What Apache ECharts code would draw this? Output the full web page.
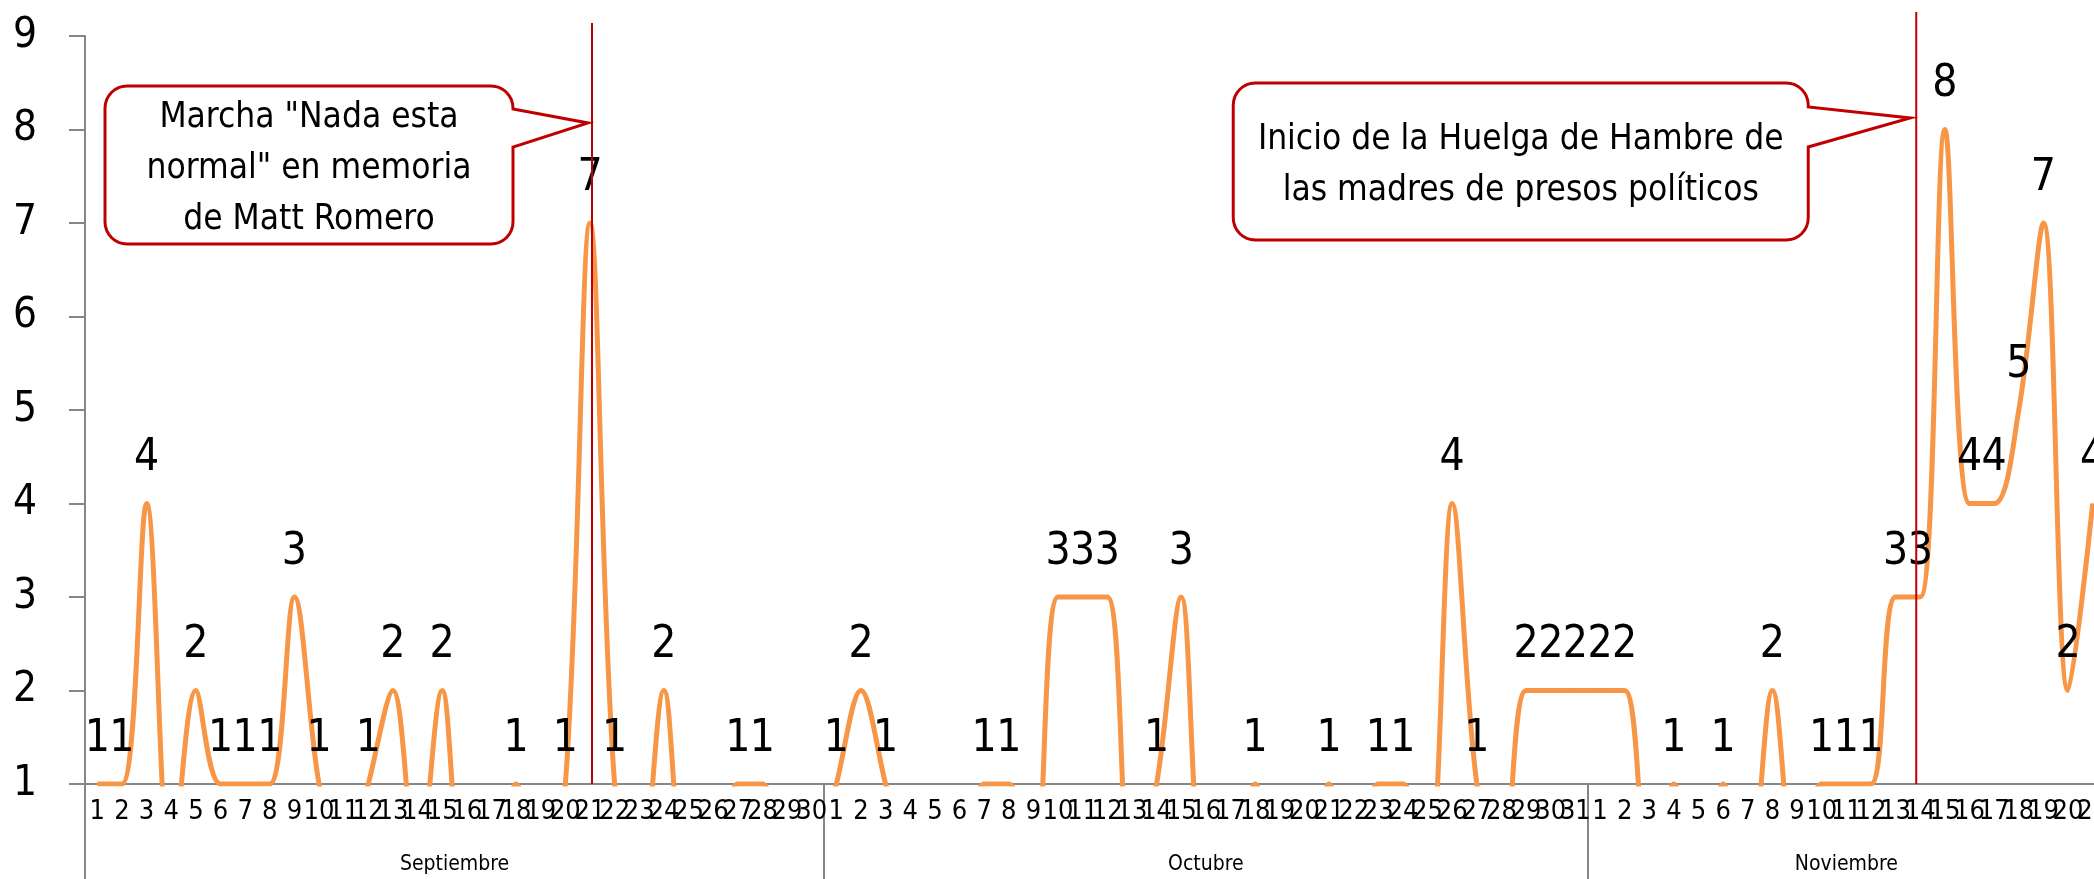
<!DOCTYPE html>
<html>
<head>
<meta charset="utf-8">
<script src="https://cdn.jsdelivr.net/npm/echarts@6/dist/echarts.min.js"></script>
<style>
html, body { margin: 0; padding: 0; background: #fff; }
#chart { width: 2094px; height: 879px; }
</style>
</head>
<body>
<div id="chart"></div>
<script>
// months shown on the lower axis and how many days of each are in the chart
let months = ['Septiembre', 'Octubre', 'Noviembre'];
let monthDays = [30, 31, 21];

// daily counts (0 = nothing that day, it falls under the axis minimum of 1)
let sepValues = [1, 1, 4, 0, 2, 1, 1, 1, 3, 1, 0, 1, 2, 0, 2, 0, 0, 1, 0, 1, 7, 1, 0, 2, 0, 0, 1, 1, 0, 0];
let octValues = [1, 2, 1, 0, 0, 0, 1, 1, 0, 3, 3, 3, 0, 1, 3, 0, 0, 1, 0, 0, 1, 0, 1, 1, 0, 4, 1, 0, 2, 2, 2];
let novValues = [2, 2, 0, 1, 0, 1, 0, 2, 0, 1, 1, 1, 3, 3, 8, 4, 4, 5, 7, 2, 4];

// callouts: which month / day the red line marks
let notes = [
  { month: 0, day: 21, text: 'Marcha "Nada esta\nnormal" en memoria\nde Matt Romero' },
  { month: 2, day: 14, text: 'Inicio de la Huelga de Hambre de\nlas madres de presos políticos' }
];
// callout box layout, offsets in px from the red line
let noteLayout = [
  { shift: 2, left: 487, right: 79, top: 86, bottom: 244, tip: 4, tipY: 123, baseTop: 109, baseBottom: 147, lineTop: 23 },
  { shift: -4, left: 683, right: 108, top: 83, bottom: 240, tip: 6, tipY: 118, baseTop: 107, baseBottom: 147, lineTop: 12 }
];

let days = [];
let monthStarts = [];
let monthCenters = [];
monthDays.forEach(n => {
  monthStarts.push(days.length);
  monthCenters.push(days.length + n / 2);
  for (let d = 1; d <= n; d++) days.push(String(d));
});
let values = sepValues.concat(octValues, novValues);

const font = '"DejaVu Sans Condensed", sans-serif';
const gray = '#868686';
const red = '#C00000';

let option = {
  animation: false,
  grid: { left: 85, right: -11, top: 36, bottom: 95, containLabel: false, outerBoundsMode: 'none' },
  xAxis: [
    {
      type: 'category',
      data: days,
      position: 'bottom',
      boundaryGap: true,
      axisLine: { lineStyle: { color: gray, width: 2 } },
      axisTick: { show: false },
      axisLabel: { interval: 0, fontSize: 27, margin: 14, color: '#000', fontFamily: font }
    },
    {
      type: 'value',
      min: 0,
      max: days.length,
      position: 'bottom',
      axisLine: { show: false },
      splitLine: { show: false },
      axisTick: { show: true, customValues: monthStarts, length: 95, lineStyle: { color: gray, width: 2 } },
      axisLabel: {
        customValues: monthCenters,
        formatter: v => months[monthCenters.indexOf(v)] || '',
        fontSize: 21, margin: 70, color: '#000', fontFamily: font
      }
    }
  ],
  yAxis: {
    type: 'value',
    min: 1,
    max: 9,
    interval: 1,
    axisLine: { show: true, lineStyle: { color: gray, width: 2 } },
    axisTick: { show: true, length: 16, lineStyle: { color: gray, width: 2 } },
    splitLine: { show: false },
    axisLabel: { fontSize: 42, margin: 48, color: '#000', fontFamily: font }
  },
  series: [
    {
      type: 'line',
      data: values,
      smooth: 0.35,
      clip: true,
      symbol: 'circle',
      symbolSize: 1,
      showSymbol: true,
      itemStyle: { color: '#F79646' },
      lineStyle: { color: '#F79646', width: 5 },
      label: {
        show: true,
        position: 'top',
        distance: 22,
        fontSize: 44,
        color: '#000',
        fontFamily: font,
        formatter: p => (p.value >= 1 ? p.value : '')
      }
    }
  ]
};

let chart = echarts.init(document.getElementById('chart'));
chart.setOption(option);

// rounded callout box with a pointer on its right side, as polygon points
function calloutPoints(x0, y0, x1, y1, r, notch) {
  let pts = [];
  let arc = (cx, cy, a0, a1) => {
    for (let k = 0; k <= 8; k++) {
      let a = (a0 + (a1 - a0) * k / 8) * Math.PI / 180;
      pts.push([cx + r * Math.cos(a), cy + r * Math.sin(a)]);
    }
  };
  arc(x1 - r, y0 + r, -90, 0);
  pts.push([x1, notch[0]], [notch[1], notch[2]], [x1, notch[3]]);
  arc(x1 - r, y1 - r, 0, 90);
  arc(x0 + r, y1 - r, 90, 180);
  arc(x0 + r, y0 + r, 180, 270);
  return pts;
}

// red event lines + callout boxes, placed from the axis scales
let graphics = [];
notes.forEach((n, i) => {
  let L = noteLayout[i];
  let idx = monthStarts[n.month] + n.day - 1;
  let p = chart.convertToPixel({ xAxisIndex: 0, yAxisIndex: 0 }, [idx, 1]);
  let lx = p[0] + L.shift, base = p[1];
  graphics.push({
    type: 'line', z: 10,
    shape: { x1: lx, y1: L.lineTop, x2: lx, y2: base },
    style: { stroke: red, lineWidth: 2 }
  });
  let x0 = lx - L.left, x1 = lx - L.right;
  graphics.push({
    type: 'polygon', z: 11,
    shape: { points: calloutPoints(x0, L.top, x1, L.bottom, 22, [L.baseTop, lx - L.tip, L.tipY, L.baseBottom]) },
    style: { fill: '#fff', stroke: red, lineWidth: 3 }
  });
  graphics.push({
    type: 'text', z: 12,
    x: (x0 + x1) / 2, y: (L.top + L.bottom) / 2 + 4,
    style: {
      text: n.text, fill: '#000', font: '35px ' + font,
      align: 'center', verticalAlign: 'middle', lineHeight: 51
    }
  });
});
chart.setOption({ graphic: graphics });
</script>
</body>
</html>
